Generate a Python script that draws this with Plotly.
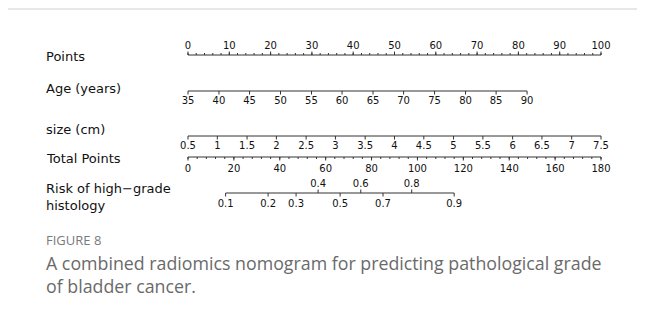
import plotly.graph_objects as go

# ---------------- data ----------------
points_labels = [0, 10, 20, 30, 40, 50, 60, 70, 80, 90, 100]
points_minor = list(range(0, 101, 2))

age_labels = [35, 40, 45, 50, 55, 60, 65, 70, 75, 80, 85, 90]
age_points = [0.0, 7.5, 14.9, 22.4, 29.9, 37.3, 44.8, 52.2, 59.7, 67.2, 74.6, 82.1]

size_labels = ["0.5", "1", "1.5", "2", "2.5", "3", "3.5", "4", "4.5", "5", "5.5", "6", "6.5", "7", "7.5"]
size_points = [0.0, 7.1, 14.3, 21.4, 28.6, 35.7, 42.9, 50.0, 57.1, 64.3, 71.4, 78.6, 85.7, 92.9, 100.0]

total_labels = [0, 20, 40, 60, 80, 100, 120, 140, 160, 180]
total_minor = list(range(0, 181, 4))
total_max = 180

risk_labels = ["0.1", "0.2", "0.3", "0.4", "0.5", "0.6", "0.7", "0.8", "0.9"]
risk_total = [16.4, 34.9, 47.1, 56.7, 66.3, 75.3, 85.0, 97.5, 116.0]
risk_above = [False, False, False, True, False, True, False, True, False]

row_names = ["Points", "Age (years)", "size (cm)", "Total Points", "Risk of high\u2212grade<br>histology"]

caption_head = "FIGURE 8"
caption_text = "A combined radiomics nomogram for predicting pathological grade<br>of bladder cancer."

# ---------------- layout constants ----------------
PAGE_W, PAGE_H = 645, 320
OFF = 8                      # page body margin
W, H = PAGE_W - OFF, PAGE_H - OFF
LINE = "#333333"
TICKFONT = dict(family="DejaVu Sans, Liberation Sans, Arial", size=10, color="#111")
ROWFONT = dict(family="DejaVu Sans, Liberation Sans, Arial", size=13, color="#111")

fig = go.Figure()


def py(v):  # page y pixel -> figure y coordinate
    return v - OFF


def tp(v):
    return v * 100.0 / total_max


def hline(x0, x1, y):
    fig.add_trace(go.Scatter(x=[x0, x1], y=[py(y), py(y)], mode="lines",
                             line=dict(color=LINE, width=1), hoverinfo="skip", showlegend=False))


def ticks(xs, y, length):
    X, Y = [], []
    for x in xs:
        X += [x, x, None]
        Y += [py(y), py(y + length), None]
    fig.add_trace(go.Scatter(x=X, y=Y, mode="lines",
                             line=dict(color=LINE, width=1), hoverinfo="skip", showlegend=False))


def labels(xs, texts, y):
    fig.add_trace(go.Scatter(x=xs, y=[py(y)] * len(xs), mode="text", text=[str(t) for t in texts],
                             textposition="middle center", textfont=TICKFONT,
                             hoverinfo="skip", showlegend=False))


# Points row (ticks up, labels above)
yP = 55
hline(points_labels[0], points_labels[-1], yP)
ticks(points_minor, yP, -2)
ticks(points_labels, yP, -3.5)
labels(points_labels, points_labels, 46)

# Age row
yA = 91
hline(age_points[0], age_points[-1], yA)
ticks(age_points, yA, 3.5)
labels(age_points, age_labels, 101)

# size row
yS = 136
hline(size_points[0], size_points[-1], yS)
ticks(size_points, yS, 3.5)
labels(size_points, size_labels, 146)

# Total points row
yT = 157
tl = [tp(v) for v in total_labels]
hline(tl[0], tl[-1], yT)
ticks([tp(v) for v in total_minor], yT, 2)
ticks(tl, yT, 3.5)
labels(tl, total_labels, 169)

# Risk row
yR = 193
rx = [tp(v) for v in risk_total]
hline(rx[0], rx[-1], yR)
up = [x for x, a in zip(rx, risk_above) if a]
dn = [x for x, a in zip(rx, risk_above) if not a]
ticks(up, yR, -3.5)
ticks(dn, yR, 3.5)
labels(up, [l for l, a in zip(risk_labels, risk_above) if a], 184)
labels(dn, [l for l, a in zip(risk_labels, risk_above) if not a], 204)

# Row names
LX = (44 - OFF) / W
row_y = [56, 88, 129, 158, 197]
for name, y in zip(row_names, row_y):
    fig.add_annotation(xref="paper", yref="y", x=LX, y=py(y), text=name, showarrow=False,
                       xanchor="left", yanchor="middle", align="left", font=ROWFONT)

# Caption
fig.add_annotation(xref="paper", yref="y", x=LX, y=py(240), text=caption_head, showarrow=False,
                   xanchor="left", yanchor="middle",
                   font=dict(family="Open Sans, Lato, sans-serif", size=13, color="#7a7a7a"))
fig.add_annotation(xref="paper", yref="y", x=LX, y=py(274), text=caption_text, showarrow=False,
                   xanchor="left", yanchor="middle", align="left",
                   font=dict(family="Open Sans, Lato, sans-serif", size=17.8, color="#6a6a6a"))

# Frame (page decoration)
fy = 1 - (9 - OFF) / H
fig.add_shape(type="line", xref="paper", yref="paper", x0=0, x1=1, y0=fy, y1=fy,
              line=dict(color="#cfcfcf", width=1))

# Axes mapping: Points 0 -> page px 188, 100 -> page px 601
px_per = (601 - 188) / 100.0
x0 = -(188 - OFF) / px_per
x1 = x0 + W / px_per
fig.update_xaxes(range=[x0, x1], visible=False, fixedrange=True)
fig.update_yaxes(range=[H, 0], visible=False, fixedrange=True)
fig.update_layout(width=W, height=H, margin=dict(l=0, r=0, t=0, b=0),
                  paper_bgcolor="white", plot_bgcolor="white", showlegend=False)

fig.write_html("out.html")
